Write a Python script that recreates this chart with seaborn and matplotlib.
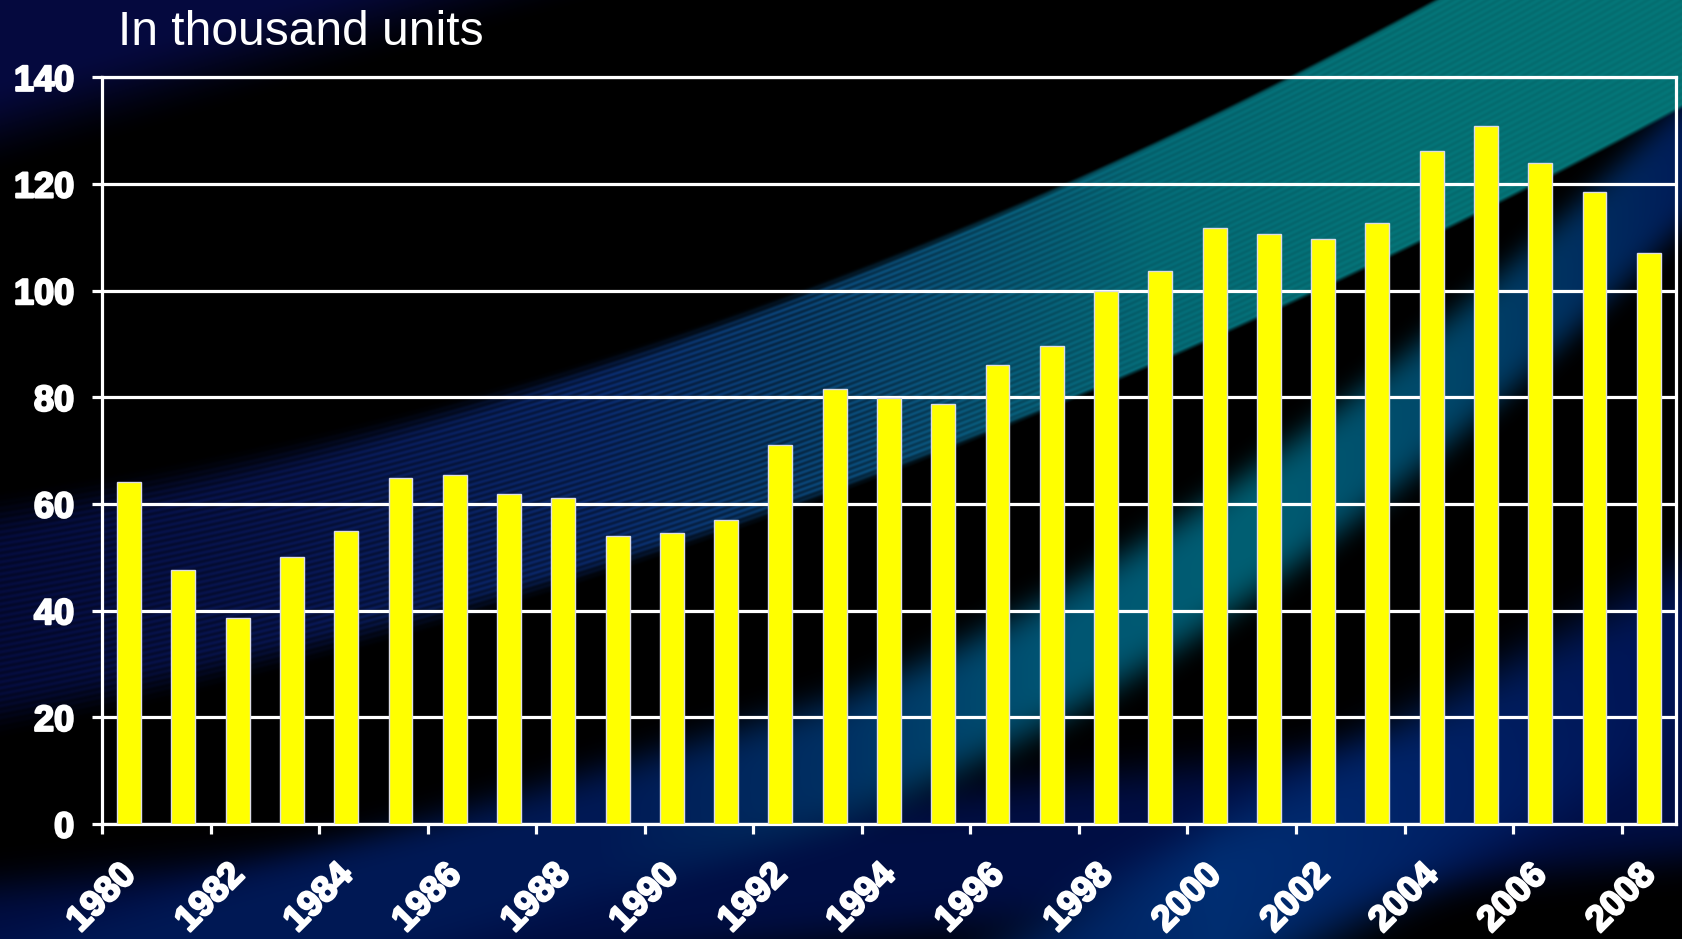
import numpy as np
import pandas as pd
import matplotlib
matplotlib.use("Agg")
import matplotlib.pyplot as plt
import matplotlib.patheffects as pe
import seaborn as sns

# ---------------- data ----------------
years = [str(y) for y in range(1980, 2009)]
units = [64.2, 47.7, 38.6, 50.1, 54.9, 64.8, 65.4, 61.8, 61.2, 53.9,
         54.5, 56.9, 71.0, 81.5, 79.9, 78.7, 86.1, 89.7, 100.0, 103.6,
         111.8, 110.6, 109.7, 112.7, 126.1, 130.8, 124.0, 118.5, 107.0]
y_ticks = [0, 20, 40, 60, 80, 100, 120, 140]
x_tick_labels = [str(y) for y in range(1980, 2009, 2)]
title_text = "In thousand units"

df = pd.DataFrame({"year": years, "units": units})

sns.set_style("dark")
plt.rcParams["font.family"] = ["Liberation Sans", "DejaVu Sans"]

# ---------------- decorative background ----------------
W, H = 1683, 939
yy, xx = np.mgrid[0:H, 0:W].astype(float)
img = np.zeros((H, W, 3))


def smooth(e0, e1, v):
    t = np.clip((v - e0) / (e1 - e0), 0, 1)
    return t * t * (3 - 2 * t)


def over(base, color, alpha):
    return base * (1 - alpha[..., None]) + color * alpha[..., None]


def xcolor(xs, r, g, b):
    return np.stack([np.interp(xx, xs, r), np.interp(xx, xs, g),
                     np.interp(xx, xs, b)], axis=-1) / 255.0


# bottom-left navy
ye = 955 - 0.1 * xx
a = np.exp(-((yy - ye) / 75.0) ** 4) * 0.95
img = over(img, np.array([0, 15, 72]) / 255.0, a)

# lower-right navy band
yd = 911 - 0.55 * (xx - 1217)
a = np.exp(-((yy - yd) / 95.0) ** 4) * 0.95
img = over(img, xcolor([800, 1217, 1683], [0, 0, 0], [18, 48, 20], [78, 118, 88]), a)

# teal-blue middle band
dx = xx - 841
yc = np.where(xx > 841, 760 - 0.402 * dx - 3.66e-4 * dx ** 2, 760 - 0.3 * dx)
a = np.exp(-((yy - yc) / 68.0) ** 4)
img = over(img, xcolor([600, 850, 1050, 1250, 1450, 1683],
                       [0, 0, 0, 0, 0, 0],
                       [25, 50, 85, 95, 70, 28],
                       [85, 100, 115, 115, 105, 88]), a)

# main swoosh
yu = 500 - 0.151 * xx - 1.384e-4 * xx ** 2
yl = 728 - 0.197 * xx - 1.021e-4 * xx ** 2
soft = np.interp(xx, [0, 700, 1100], [45, 15, 5])
a = smooth(yu - soft * 0.3, yu + soft, yy) * (1 - smooth(yl - soft, yl + soft * 0.3, yy))
t = (yy - yu) / np.maximum(yl - yu, 1)
amp = np.interp(xx, [0, 800, 1150, 1683], [0.16, 0.2, 0.05, 0.03])
stripes = 1 - amp + amp * np.sin(2 * np.pi * t * 38)
col = xcolor([0, 300, 600, 900, 1150, 1400, 1683],
             [5, 8, 10, 10, 5, 5, 5],
             [12, 22, 42, 80, 108, 116, 118],
             [62, 82, 108, 122, 120, 120, 120]) * stripes[..., None]
img = over(img, col, a)

# top-left navy corner
dA = yy - (167 - 0.29 * xx)
a = (1 - smooth(-90, 10, dA)) * 0.95
img = over(img, np.array([6, 10, 66]) / 255.0, a)
img = np.clip(img, 0, 1)

# ---------------- figure ----------------
fig = plt.figure(figsize=(16.83, 9.39), dpi=100, facecolor="black")
bg = fig.add_axes([0, 0, 1, 1], zorder=0)
bg.imshow(img, aspect="auto", interpolation="bilinear")
bg.axis("off")

ax = fig.add_axes([0.0606, 0.1225, 0.9352, 0.7952], zorder=1)
ax.set_facecolor("none")

sns.barplot(data=df, x="year", y="units", order=years, color="#FFFF00",
            saturation=1, width=0.44, edgecolor="#dcdce6", linewidth=1.0,
            ax=ax, zorder=3)

ax.set_xlim(-0.5, len(years) - 0.5)
ax.set_ylim(0, 140)
ax.set_yticks(y_ticks)
ax.set_yticklabels([str(v) for v in y_ticks])
ax.set_xticks([i - 0.5 for i in range(0, len(years), 2)])
ax.set_xticklabels(x_tick_labels, rotation=45, ha="center", va="top")
ax.set_xlabel("")
ax.set_ylabel("")

ax.grid(axis="y", color="white", linewidth=2.3, zorder=1)
ax.grid(axis="x", visible=False)
ax.set_axisbelow(True)
for s in ax.spines.values():
    s.set_color("white")
    s.set_linewidth(2.3)
    s.set_visible(True)

ax.tick_params(axis="both", colors="white", direction="out", length=7,
               width=2.3, labelsize=26, bottom=True, left=True)
ax.tick_params(axis="y", pad=13)
ax.tick_params(axis="x", pad=17)
heavy = [pe.withStroke(linewidth=1.6, foreground="white")]
for lab in ax.get_xticklabels() + ax.get_yticklabels():
    lab.set_fontweight("bold")
    lab.set_color("white")
    lab.set_path_effects(heavy)

fig.text(0.0701, 1 - 45 / 939, title_text, color="white", fontsize=34.5,
         ha="left", va="baseline")

fig.savefig("out.png", dpi=100, facecolor="black")
